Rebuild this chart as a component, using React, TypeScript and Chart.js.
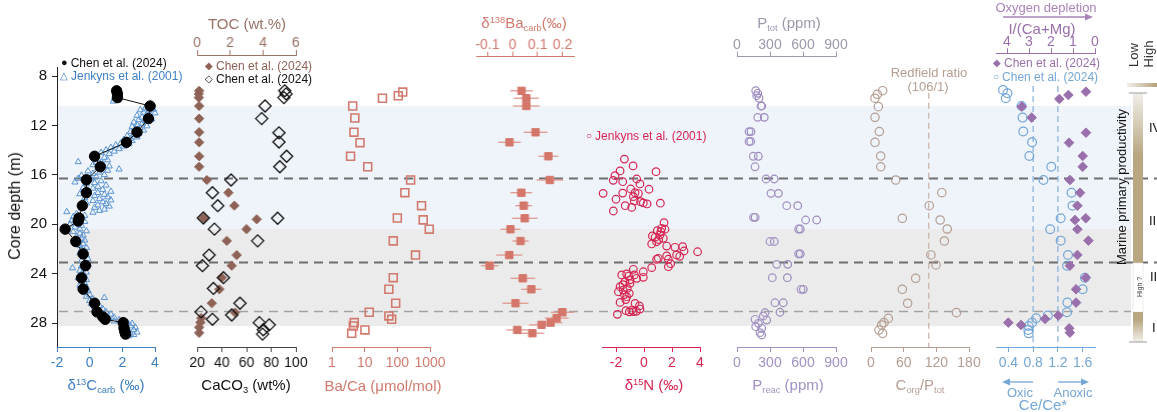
import React, { useEffect, useRef } from "react";
import { Chart, registerables } from "chart.js";

Chart.register(...registerables);

const FONT = "'Liberation Sans', Arial, Helvetica, sans-serif";
Chart.defaults.font.family = FONT;
Chart.defaults.font.size = 14;

const W = 1157;
const H = 412;

// ---------- data ----------
const depthTicks = [8, 12, 16, 20, 24, 28];

// shaded intervals (m) and interval boundaries
const blueInterval: [number, number] = [10.43, 20.4];
const greyInterval: [number, number] = [20.4, 28.24];
const boundaryDepths = [16.23, 23.1, 27.0];

// δ13Ccarb (‰): [depth m, value]
const c13Chen: [number, number][] = [
  [9.2, 1.65], [9.45, 1.7], [9.75, 1.7], [10.43, 3.7], [11.45, 3.6], [12.55, 2.9], [13.37, 2.25],
  [14.5, 0.3], [15.35, 0.65], [16.4, -0.2], [17.45, -0.2], [18.5, -0.45], [19.5, -0.65], [19.75, -0.7],
  [20.4, -1.5], [21.4, -0.85], [22.4, -0.4], [23.35, -0.25], [24.35, -0.5], [25.25, -0.4], [26.4, 0.3],
  [27.1, 0.45], [27.5, 0.8], [27.7, 0.95], [27.97, 2.05], [28.4, 2.1], [28.7, 2.15], [28.9, 2.2],
];
const c13Jenkyns: [number, number][] = [
  [9.85, 1.5], [9.95, 1.75], [10.05, 1.45],
  [10.6, 3.4], [10.7, 3.9], [10.75, 3.1], [10.85, 3.6], [10.95, 3.3], [11.0, 4.0], [11.1, 3.5], [11.2, 2.9],
  [11.25, 3.7], [11.35, 3.2], [11.5, 3.8], [11.55, 3.0], [11.65, 3.4], [11.75, 2.7], [11.85, 3.2], [11.95, 2.9],
  [12.05, 3.5], [12.1, 2.6], [12.2, 3.1], [12.3, 2.8], [12.4, 3.3], [12.5, 2.5], [12.65, 3.0], [12.75, 2.7],
  [12.85, 2.3], [12.95, 2.9], [13.05, 2.5], [13.15, 2.1], [13.25, 2.6], [13.45, 1.9], [13.5, 2.4], [13.6, 1.6],
  [13.7, 2.1], [13.8, 1.3], [13.9, 1.8], [14.0, 1.0], [14.1, 1.5], [14.2, 0.7], [14.3, 1.2], [14.6, 0.9],
  [14.7, 0.5], [14.8, 1.1], [14.95, -0.7], [15.0, 0.4], [15.1, 0.8], [15.2, 0.2], [15.3, 1.2], [15.45, 0.5],
  [15.55, 1.8], [15.65, 1.1], [15.7, -0.1], [15.8, 0.6], [15.9, 0.2], [16.0, 0.9], [16.05, -0.5], [16.15, 0.4],
  [16.3, -0.7], [16.35, 0.1], [16.5, 0.7], [16.6, -0.9], [16.65, 0.3], [16.75, -0.2], [16.85, 1.0], [16.95, 0.5],
  [17.05, -0.4], [17.1, 0.2], [17.2, 0.8], [17.3, -0.1], [17.35, 1.3], [17.45, 0.5], [17.55, -0.6], [17.6, 0.9],
  [17.7, 0.3], [17.8, 1.1], [17.85, -0.3], [17.95, 0.6], [18.05, 1.3], [18.1, 0.2], [18.2, 0.8], [18.3, -0.2],
  [18.35, 1.0], [18.45, 0.5], [18.55, 1.2], [18.65, 0.3], [18.7, -0.5], [18.8, 0.9], [18.9, 0.6], [19.0, -1.4],
  [19.05, 0.2], [19.15, -0.8], [19.3, -0.3], [19.4, -1.0], [19.55, -0.5], [19.7, -1.1], [19.8, -0.3], [19.9, -0.8],
  [20.0, -1.2], [20.1, -0.5], [20.25, -0.9], [20.4, -0.6], [20.55, -0.2], [20.6, -1.0], [20.75, -0.6], [20.9, -0.4],
  [21.0, -0.8], [21.15, -0.5], [21.3, -0.3], [21.45, -0.7], [21.6, -0.4], [21.75, -0.6], [21.9, -0.2], [22.05, -0.5],
  [22.2, -0.3], [22.35, -0.6], [22.5, -0.2], [22.65, -0.4], [22.8, -0.1], [22.95, -0.5], [23.1, -0.3], [23.25, -0.1],
  [23.4, -0.5], [23.55, -1.05], [23.6, -0.3], [23.75, -0.6], [23.9, -0.2], [24.05, -0.5], [24.2, -0.3], [24.35, -0.7],
  [24.5, -0.2], [24.65, -0.5], [24.8, -0.3], [24.95, -0.6], [25.1, -0.2], [25.25, -0.4], [25.4, -0.1], [25.55, -0.3],
  [25.7, 0.0], [25.85, -0.2], [25.95, 0.9], [26.05, 0.2], [26.2, 0.0], [26.3, 0.4], [26.45, 0.1], [26.6, 0.6],
  [26.7, 0.3], [26.85, 0.8], [26.95, 0.5], [27.1, 1.0], [27.2, 0.7], [27.3, 1.3], [27.4, 0.9], [27.55, 1.5],
  [27.65, 1.2], [27.75, 1.8], [27.85, 1.5], [27.95, 2.3], [28.05, 2.6], [28.15, 2.1], [28.25, 2.5], [28.35, 2.8],
  [28.45, 2.3], [28.55, 2.7], [28.65, 2.2], [28.75, 2.9], [28.85, 2.5], [28.95, 2.7], [29.05, 2.4],
];

// TOC (wt.%) and CaCO3 (wt%)
const tocChen: [number, number][] = [
  [9.2, 0.12], [9.45, 0.1], [9.75, 0.1], [10.43, 0.12], [11.45, 0.12], [12.55, 0.12], [13.37, 0.12],
  [14.5, 0.12], [15.35, 0.12], [16.42, 0.59], [17.45, 1.9], [18.5, 2.26], [19.5, 0.38], [19.6, 3.62],
  [20.4, 3.0], [21.35, 1.8], [22.5, 2.4], [23.36, 2.1], [24.33, 1.5], [25.27, 1.35], [26.4, 0.89],
  [27.15, 2.3], [27.6, 0.25], [27.95, 0.2], [28.35, 0.12], [28.8, 0.12],
];
const caco3Chen: [number, number][] = [
  [9.2, 91], [9.45, 92], [9.75, 90.3], [10.43, 75], [11.45, 72.3], [12.6, 86.3], [13.35, 86.3],
  [14.5, 92.5], [15.35, 87], [16.42, 47.5], [17.45, 32.4], [18.5, 36.7], [19.5, 25], [19.52, 85.2],
  [20.4, 34], [21.35, 69], [22.5, 29.7], [23.36, 24.3], [24.33, 41.3], [25.2, 33.2], [26.4, 54.7],
  [27.1, 23.2], [27.35, 48], [27.7, 32.4], [27.97, 70.4], [28.15, 78.4], [28.55, 73.6], [28.9, 73],
];

// Ba/Ca (µmol/mol)
const baCa: [number, number][] = [
  [9.3, 146], [9.6, 107], [9.8, 35], [10.43, 4.3], [11.4, 5.0], [12.55, 4.7], [13.4, 7.2], [14.5, 3.7],
  [15.35, 12.4], [16.42, 255], [17.45, 170], [18.5, 550], [19.5, 100], [19.65, 620], [20.4, 950],
  [21.35, 75], [22.5, 360], [23.36, 2700], [24.33, 75], [25.27, 55], [26.4, 89], [27.13, 13.8],
  [27.43, 55], [27.7, 67], [27.97, 4.8], [28.24, 4.5], [28.56, 10.2], [28.83, 4.0],
];

// δ138Ba carb (‰): [depth, value, 2SD]
const ba138: [number, number, number][] = [
  [9.2, 0.036, 0.045], [9.8, 0.055, 0.05], [10.43, 0.055, 0.053], [12.56, 0.092, 0.047],
  [13.37, -0.012, 0.045], [14.5, 0.143, 0.04], [16.42, 0.149, 0.053], [17.45, 0.035, 0.043],
  [18.5, 0.045, 0.033], [19.52, 0.049, 0.051], [20.41, -0.008, 0.04], [21.36, 0.032, 0.033],
  [22.5, -0.013, 0.052], [23.36, -0.091, 0.035], [24.38, 0.041, 0.049], [25.27, 0.075, 0.04],
  [26.4, 0.012, 0.052], [27.13, 0.199, 0.047], [27.6, 0.176, 0.047], [27.97, 0.152, 0.047],
  [28.15, 0.116, 0.05], [28.56, 0.019, 0.044], [28.83, 0.079, 0.047],
];

// δ15N (‰)
const n15Jenkyns: [number, number][] = [
  [14.73, -1.4], [15.28, -0.78], [15.69, -1.71], [15.75, 0.86], [16.07, -2.07], [16.34, -0.52], [16.45, -2.2],
  [16.56, -1.52], [16.74, -0.29], [17.15, -0.95], [17.17, 0.36], [17.5, -2.92], [17.48, -1.52], [17.45, -0.64],
  [17.52, -0.4], [17.77, -0.76], [17.98, -2.0], [18.12, -0.69], [18.18, -0.25], [18.36, 0.22], [18.3, 1.17],
  [18.5, -1.34], [18.64, -0.88], [18.28, -0.05], [18.93, -2.19],
  [19.87, 1.43], [20.33, 1.26], [20.52, 0.95], [20.41, 1.5], [20.6, 1.2], [20.87, 1.14], [20.95, 0.6],
  [21.06, 0.79], [21.14, 1.38], [21.25, 1.05], [21.6, 0.55], [21.42, 0.9], [21.77, 1.62], [21.87, 2.21],
  [21.82, 2.76], [22.17, 2.86], [22.49, 2.33], [22.6, 2.55], [22.23, 3.83], [22.57, 1.62], [22.76, 1.02],
  [22.84, 1.74], [22.84, 0.9], [23.2, 1.9], [23.44, 1.74], [23.52, 0.55], [23.85, -0.05], [23.65, -0.76],
  [24.03, -1.24], [24.11, -0.69], [24.11, -1.59], [24.2, -1.1], [24.3, -0.05], [24.38, -0.52], [24.5, -1.0],
  [24.65, -1.36], [24.79, -1.0], [24.9, -1.5], [25.06, -1.71], [25.2, -1.2], [25.33, -1.48], [25.47, -1.83],
  [25.6, -1.05], [25.7, -1.4], [25.87, -1.24], [26.1, -1.3], [26.33, -1.71], [26.41, -0.64], [26.62, -0.33],
  [26.87, -0.29], [26.95, -0.88], [27.0, -1.29], [27.05, -0.55], [27.08, -0.76], [27.1, -1.05], [27.3, -1.9],
];

// Phosphorus (ppm)
const pReac: [number, number][] = [
  [9.19, 170], [9.6, 179], [10.43, 218], [11.35, 188], [12.5, 109], [13.3, 109], [14.5, 148], [15.35, 164],
  [16.34, 264], [17.5, 309], [18.5, 452], [19.44, 150], [19.66, 624], [20.39, 560], [21.4, 300], [22.4, 560],
  [23.25, 361], [24.33, 321], [25.27, 582], [26.36, 345], [27.16, 255], [27.43, 239], [27.7, 164],
  [28.03, 194], [28.3, 170], [28.78, 209],
];
const pTot: [number, number][] = [
  [9.4, 188], [9.8, 200], [10.43, 225], [11.35, 248], [12.5, 127], [13.3, 124], [14.5, 194], [16.34, 339],
  [17.5, 376], [18.5, 552], [19.44, 165], [19.66, 724], [20.39, 575], [21.4, 339], [22.4, 575], [23.25, 461],
  [24.33, 458], [25.27, 603], [26.36, 421], [27.13, 391], [27.76, 270], [28.43, 224], [28.97, 224],
];

// Corg/Ptot (molar)
const corgPtot: [number, number][] = [
  [9.19, 21.4], [9.48, 11.6], [9.8, 7.3], [10.48, 13.5], [11.35, 7.3], [12.5, 15.3], [13.37, 7.3],
  [14.48, 17.8], [15.35, 17.8], [16.42, 45.4], [17.45, 130], [18.5, 107], [19.52, 57.5], [19.66, 127],
  [20.39, 140], [21.36, 134.7], [22.49, 110], [23.3, 119.4], [24.38, 82], [25.27, 57.5], [26.4, 67.3],
  [27.16, 157], [27.62, 31.8], [27.97, 23.9], [28.16, 19.6], [28.57, 14.7], [28.84, 21.4],
];
const redfieldRatio = 106;

// I/(Ca+Mg) (µmol/mol) and Ce/Ce*
const iodine: [number, number][] = [
  [9.27, 0.41], [9.54, 1.21], [9.86, 1.62], [10.48, 3.33], [11.37, 2.88], [12.59, 0.41], [13.4, 1.18],
  [14.48, 0.56], [15.35, 0.56], [16.42, 1.14], [17.45, 0.68], [18.5, 0.8], [19.52, 0.42], [19.66, 0.91],
  [20.41, 0.8], [21.33, 0.3], [22.49, 0.8], [23.36, 1.14], [24.33, 0.42], [25.27, 0.86], [26.35, 0.86],
  [27.4, 1.67], [27.67, 2.27], [27.97, 3.94], [28.16, 3.36], [28.43, 1.17], [28.78, 1.14],
];
const ceAnomaly: [number, number][] = [
  [9.13, 0.314], [9.4, 0.385], [9.8, 0.358], [10.43, 0.613], [11.37, 0.63], [12.5, 0.641], [13.37, 0.783],
  [14.48, 0.739], [15.35, 1.093], [16.42, 0.967], [17.45, 1.42], [18.5, 1.436], [19.52, 1.245], [20.41, 1.076],
  [21.33, 1.245], [22.49, 1.364], [23.36, 1.348], [24.33, 1.637], [25.27, 1.6], [26.35, 1.354], [27.13, 1.348],
  [27.4, 1.038], [27.62, 0.848], [27.97, 0.783], [28.24, 0.728], [28.57, 0.722], [28.84, 0.728],
];
const ceThresholds = [0.8, 1.2];

// axis tick values
const c13Ticks = [-2, 0, 2, 4];
const caco3Ticks = [20, 40, 60, 80, 100];
const tocTicks = [0, 2, 4, 6];
const baCaTicks = [1, 10, 100, 1000];
const ba138Ticks = [-0.1, 0, 0.1, 0.2];
const n15Ticks = [-2, 0, 2, 4];
const pTicks = [0, 300, 600, 900];
const corgTicks = [0, 60, 120, 180];
const iodineTicks = [4, 3, 2, 1, 0];
const ceTicks = [0.4, 0.8, 1.2, 1.6];

// ---------- colours ----------
const C = {
  c13: "#3f80c4",
  tri: "#5b95d2",
  toc: "#8e6256",
  tocAxis: "#9a7266",
  ba: "#d27a6e",
  baFill: "#d4766a",
  n15: "#d62552",
  pAxisTop: "#9d98ab",
  p: "#a290c4",
  corg: "#b59e92",
  iod: "#9a70ac",
  ce: "#74a6d6",
};

// ---------- geometry ----------
const Y_REF_PX = 76;
const Y_REF_DEPTH = 8;
const PX_PER_M = 12.35;
const PLOT_BOTTOM = 347;
const AXIS_H = 30;
const PAD_X = 25;
const depthAt = (px: number) => Y_REF_DEPTH + (px - Y_REF_PX) / PX_PER_M;

type AxisSpec = {
  min: number;
  max: number;
  ticks: number[];
  color: string;
  labelColor?: string;
  log?: boolean;
  reverse?: boolean;
};
type PanelSpec = {
  key: string;
  left: number;
  right: number;
  top: number;
  yAxis?: boolean;
  bottom?: AxisSpec;
  topAxis?: AxisSpec;
  datasets: any[];
  plugins?: any[];
};

const pts = (arr: [number, number][] | [number, number, number][]) =>
  arr.map((r) => ({ x: r[1], y: r[0] }));

function xScale(a: AxisSpec, position: "top" | "bottom") {
  return {
    type: a.log ? "logarithmic" : "linear",
    axis: "x",
    position,
    min: a.min,
    max: a.max,
    reverse: !!a.reverse,
    bounds: "data",
    afterFit: (s: any) => {
      s.height = AXIS_H;
    },
    afterBuildTicks: (s: any) => {
      s.ticks = a.ticks.map((v) => ({ value: v }));
    },
    ticks: {
      color: a.labelColor || a.color,
      autoSkip: false,
      maxRotation: 0,
      minRotation: 0,
      padding: position === "top" ? -2 : 3,
      font: { size: 14, family: FONT },
      callback: (v: any) => String(v),
    },
    grid: {
      display: true,
      drawOnChartArea: false,
      drawTicks: true,
      tickLength: 5,
      color: a.color,
      lineWidth: 1,
    },
    border: { display: true, color: a.color, width: 1 },
  };
}

function geometry(p: PanelSpec) {
  const leftSpace = p.yAxis ? p.left : PAD_X;
  return { left: p.left - leftSpace, w: leftSpace + (p.right - p.left) + PAD_X };
}

function buildChart(canvas: HTMLCanvasElement, p: PanelSpec) {
  const y: any = {
    type: "linear",
    position: "left",
    reverse: true,
    min: depthAt(p.top),
    max: depthAt(PLOT_BOTTOM),
    display: !!p.yAxis,
    bounds: "data",
  };
  if (p.yAxis) {
    Object.assign(y, {
      afterFit: (s: any) => {
        s.width = p.left;
      },
      afterBuildTicks: (s: any) => {
        s.ticks = depthTicks.map((v) => ({ value: v }));
      },
      ticks: { color: "#111", padding: 5, font: { size: 15, family: FONT }, callback: (v: any) => String(v) },
      grid: { display: true, drawOnChartArea: false, tickLength: 5, color: "#222" },
      border: { display: true, color: "#222", width: 1 },
    });
  }
  const scales: any = { y };
  if (p.bottom) scales.xb = xScale(p.bottom, "bottom");
  if (p.topAxis) scales.xt = xScale(p.topAxis, "top");
  return new Chart(canvas, {
    type: "scatter",
    data: { datasets: p.datasets },
    options: {
      responsive: false,
      animation: false,
      devicePixelRatio: 1,
      events: [],
      layout: {
        padding: {
          left: p.yAxis ? 0 : PAD_X,
          right: PAD_X,
          top: p.topAxis ? p.top - AXIS_H : p.top,
          bottom: p.bottom ? H - PLOT_BOTTOM - AXIS_H : H - PLOT_BOTTOM,
        },
      },
      plugins: { legend: { display: false }, tooltip: { enabled: false } },
      scales,
    } as any,
    plugins: p.plugins || [],
  });
}

// open / filled marker helpers
const openPts = (color: string, style: string, r: number, w = 1.2) => ({
  pointStyle: style,
  pointRadius: r,
  pointBackgroundColor: "rgba(0,0,0,0)",
  pointBorderColor: color,
  pointBorderWidth: w,
  clip: false,
});
const filledPts = (color: string, style: string, r: number) => ({
  pointStyle: style,
  pointRadius: r,
  pointBackgroundColor: color,
  pointBorderColor: color,
  pointBorderWidth: 1,
  clip: false,
});

function verticalRefLines(id: string, axisId: string, values: number[], fromDepth: number, color: string) {
  return {
    id,
    beforeDatasetsDraw(chart: any) {
      const xs = chart.scales[axisId];
      const ys = chart.scales.y;
      const ctx = chart.ctx;
      ctx.save();
      ctx.strokeStyle = color;
      ctx.lineWidth = 1.3;
      ctx.setLineDash([6, 4]);
      values.forEach((v) => {
        const px = xs.getPixelForValue(v);
        ctx.beginPath();
        ctx.moveTo(px, ys.getPixelForValue(fromDepth));
        ctx.lineTo(px, chart.chartArea.bottom);
        ctx.stroke();
      });
      ctx.restore();
    },
  };
}

const errorBars = {
  id: "ba138Errors",
  beforeDatasetsDraw(chart: any) {
    const xs = chart.scales.xt;
    const ys = chart.scales.y;
    const ctx = chart.ctx;
    ctx.save();
    ctx.strokeStyle = "#e0988d";
    ctx.lineWidth = 1.3;
    ba138.forEach(([d, v, e]) => {
      const py = ys.getPixelForValue(d);
      ctx.beginPath();
      ctx.moveTo(xs.getPixelForValue(v - e), py);
      ctx.lineTo(xs.getPixelForValue(v + e), py);
      ctx.stroke();
    });
    ctx.restore();
  },
};

const panels: PanelSpec[] = [
  {
    key: "c13",
    left: 57,
    right: 155,
    top: 67,
    yAxis: true,
    bottom: { min: -2, max: 4, ticks: c13Ticks, color: C.c13 },
    datasets: [
      {
        data: pts(c13Chen),
        xAxisID: "xb",
        showLine: true,
        borderColor: "#111",
        borderWidth: 1,
        ...filledPts("#000", "circle", 5.2),
      },
      { data: pts(c13Jenkyns), xAxisID: "xb", ...openPts(C.tri, "triangle", 3.6, 1) },
    ],
  },
  {
    key: "carb",
    left: 197,
    right: 295.5,
    top: 55,
    bottom: { min: 20, max: 100, ticks: caco3Ticks, color: "#444", labelColor: "#111" },
    topAxis: { min: 0, max: 6, ticks: tocTicks, color: C.tocAxis },
    datasets: [
      { data: pts(caco3Chen), xAxisID: "xb", ...openPts("#111", "rectRot", 6, 1.3) },
      { data: pts(tocChen), xAxisID: "xt", ...filledPts(C.toc, "rectRot", 4.6) },
    ],
  },
  {
    key: "baca",
    left: 332,
    right: 430,
    top: 67,
    bottom: { min: 1, max: 1000, ticks: baCaTicks, color: C.ba, log: true },
    datasets: [{ data: pts(baCa), xAxisID: "xb", ...openPts(C.ba, "rect", 5.6, 1.6) }],
  },
  {
    key: "ba138",
    left: 476,
    right: 573.5,
    top: 56.7,
    topAxis: { min: -0.145, max: 0.245, ticks: ba138Ticks, color: C.ba },
    datasets: [{ data: pts(ba138), xAxisID: "xt", ...filledPts(C.baFill, "rect", 5.2) }],
    plugins: [errorBars],
  },
  {
    key: "n15",
    left: 602,
    right: 700,
    top: 67,
    bottom: { min: -3, max: 4, ticks: n15Ticks, color: C.n15 },
    datasets: [{ data: pts(n15Jenkyns), xAxisID: "xb", ...openPts(C.n15, "circle", 3.8, 1.2) }],
  },
  {
    key: "p",
    left: 737,
    right: 836,
    top: 56.7,
    bottom: { min: 0, max: 900, ticks: pTicks, color: C.p },
    topAxis: { min: 0, max: 900, ticks: pTicks, color: C.pAxisTop },
    datasets: [
      { data: pts(pReac), xAxisID: "xb", ...openPts(C.p, "circle", 3.8, 1.2) },
      { data: pts(pTot), xAxisID: "xt", ...openPts("#9a88bb", "circle", 3.8, 1.2) },
    ],
  },
  {
    key: "corg",
    left: 871,
    right: 969,
    top: 67,
    bottom: { min: 0, max: 180, ticks: corgTicks, color: C.corg },
    datasets: [{ data: pts(corgPtot), xAxisID: "xb", ...openPts(C.corg, "circle", 4.2, 1.2) }],
    plugins: [verticalRefLines("redfield", "xb", [redfieldRatio], 9.35, "#c9b6ac")],
  },
  {
    key: "redox",
    left: 996,
    right: 1095,
    top: 53.3,
    bottom: { min: 0.2, max: 1.8, ticks: ceTicks, color: C.ce },
    topAxis: { min: 0, max: 4.5, ticks: iodineTicks, color: C.iod, reverse: true },
    datasets: [
      { data: pts(iodine), xAxisID: "xt", ...filledPts(C.iod, "rectRot", 4.8) },
      { data: pts(ceAnomaly), xAxisID: "xb", ...openPts(C.ce, "circle", 4.4, 1.2) },
    ],
    plugins: [verticalRefLines("ceLines", "xb", ceThresholds, 8.8, "#8db6de")],
  },
];

// shading and boundary lines behind every panel
const BAND_X0 = 57;
const BAND_X1 = 1131;
const backdrop = {
  id: "backdrop",
  beforeDraw(chart: any) {
    const y = chart.scales.y;
    const ctx = chart.ctx;
    ctx.save();
    const band = (r: [number, number], color: string) => {
      const y0 = y.getPixelForValue(r[0]);
      const y1 = y.getPixelForValue(r[1]);
      ctx.fillStyle = color;
      ctx.fillRect(BAND_X0, y0, BAND_X1 - BAND_X0, y1 - y0);
    };
    band(blueInterval, "#eff3fa");
    band(greyInterval, "#ebebeb");
    boundaryDepths.forEach((d, i) => {
      const py = Math.round(y.getPixelForValue(d)) + 0.5;
      ctx.beginPath();
      ctx.setLineDash([9, 6]);
      ctx.strokeStyle = i < 2 ? "#6f6f6f" : "#a2a2a2";
      ctx.lineWidth = i < 2 ? 1.8 : 1.4;
      ctx.moveTo(BAND_X0 + 2, py);
      ctx.lineTo(i < 2 ? W : BAND_X1, py);
      ctx.stroke();
    });
    ctx.restore();
  },
};

function Backdrop() {
  const ref = useRef<HTMLCanvasElement>(null);
  useEffect(() => {
    const chart = new Chart(ref.current!, {
      type: "scatter",
      data: { datasets: [] },
      options: {
        responsive: false,
        animation: false,
        devicePixelRatio: 1,
        events: [],
        layout: { padding: { left: BAND_X0, right: 0, top: 67, bottom: H - PLOT_BOTTOM } },
        plugins: { legend: { display: false }, tooltip: { enabled: false } },
        scales: {
          x: { display: false, min: 0, max: 1 },
          y: { display: false, reverse: true, min: depthAt(67), max: depthAt(PLOT_BOTTOM) },
        },
      } as any,
      plugins: [backdrop],
    });
    return () => chart.destroy();
  }, []);
  return <canvas ref={ref} width={W} height={H} style={{ position: "absolute", left: 0, top: 0 }} />;
}

function PanelCanvas({ spec }: { spec: PanelSpec }) {
  const ref = useRef<HTMLCanvasElement>(null);
  useEffect(() => {
    const chart = buildChart(ref.current!, spec);
    return () => chart.destroy();
  }, [spec]);
  const g = geometry(spec);
  return (
    <canvas
      ref={ref}
      width={g.w}
      height={H}
      style={{ position: "absolute", left: g.left, top: 0, width: g.w, height: H }}
    />
  );
}

// ---------- text helpers ----------
function T({
  x,
  y,
  children,
  size = 15,
  color = "#111",
  rotate = 0,
  left = false,
}: {
  x: number;
  y: number;
  children: React.ReactNode;
  size?: number;
  color?: string;
  rotate?: number;
  left?: boolean;
}) {
  return (
    <div
      style={{
        position: "absolute",
        left: x,
        top: y,
        transform: `translate(${left ? "0" : "-50%"},-50%) rotate(${rotate}deg)`,
        fontFamily: FONT,
        fontSize: size,
        color,
        whiteSpace: "nowrap",
        lineHeight: 1,
      }}
    >
      {children}
    </div>
  );
}
const Sup = ({ c }: { c: string }) => (
  <span style={{ fontSize: "0.62em", position: "relative", top: "-0.5em" }}>{c}</span>
);
const Sub = ({ c }: { c: string }) => (
  <span style={{ fontSize: "0.62em", position: "relative", top: "0.3em" }}>{c}</span>
);
const Mark = ({ g, size = 10 }: { g: string; size?: number }) => (
  <span style={{ fontSize: size, marginRight: 3, position: "relative", top: -1 }}>{g}</span>
);

function Decorations() {
  return (
    <svg width={W} height={H} style={{ position: "absolute", left: 0, top: 0 }}>
      <defs>
        <linearGradient id="lowHigh" x1="0" x2="1" y1="0" y2="0">
          <stop offset="0" stopColor="#f3f0ea" />
          <stop offset="1" stopColor="#b3a07a" />
        </linearGradient>
        <linearGradient id="stripTop" x1="0" x2="0" y1="0" y2="1">
          <stop offset="0" stopColor="#f1efea" />
          <stop offset="1" stopColor="#b9a782" />
        </linearGradient>
        <linearGradient id="stripBottom" x1="0" x2="0" y1="0" y2="1">
          <stop offset="0" stopColor="#b9a782" />
          <stop offset="1" stopColor="#f3f1ec" />
        </linearGradient>
      </defs>
      {/* oxygen depletion arrow */}
      <line x1={1003} y1={17} x2={1088} y2={17} stroke="#a983ba" strokeWidth={1.3} />
      <path d="M1093,17 L1085,13.5 L1085,20.5 Z" fill="#a983ba" />
      {/* oxic / anoxic arrows */}
      <line x1={1008} y1={382} x2={1033} y2={382} stroke={C.ce} strokeWidth={1.3} />
      <path d="M1002,382 L1010,378.5 L1010,385.5 Z" fill={C.ce} />
      <line x1={1058} y1={382} x2={1083} y2={382} stroke={C.ce} strokeWidth={1.3} />
      <path d="M1089,382 L1081,378.5 L1081,385.5 Z" fill={C.ce} />
      {/* productivity scale */}
      <rect x={1127} y={83} width={30} height={4} fill="url(#lowHigh)" />
      <rect x={1133} y={93} width={10} height={62} fill="url(#stripTop)" />
      <rect x={1133} y={155} width={10} height={108} fill="#b9a782" />
      <rect x={1133} y={263} width={10} height={49} fill="#ffffff" stroke="#e2ddd3" strokeWidth={0.6} />
      <rect x={1133} y={312} width={10} height={8} fill="#b9a782" />
      <rect x={1133} y={320} width={10} height={22} fill="url(#stripBottom)" />
      <line x1={1129} y1={93} x2={1147} y2={93} stroke="#9a9a9a" strokeWidth={1} />
      <line x1={1129} y1={342} x2={1147} y2={342} stroke="#9a9a9a" strokeWidth={1} />
    </svg>
  );
}

function Texts() {
  return (
    <>
      {/* depth axis */}
      <T x={15} y={206} size={16} rotate={-90}>
        Core depth (m)
      </T>

      {/* δ13C */}
      <T x={61} y={63} size={12} left>
        <Mark g="●" size={11} />
        Chen et al. (2024)
      </T>
      <T x={60} y={76} size={12} color={C.c13} left>
        <Mark g="△" />
        Jenkyns et al. (2001)
      </T>
      <T x={106} y={385} color={C.c13}>
        δ<Sup c="13" />C<Sub c="carb" /> (‰)
      </T>

      {/* TOC / CaCO3 */}
      <T x={247} y={23} color={C.tocAxis}>
        TOC (wt.%)
      </T>
      <T x={205} y={66} size={12} color={C.toc} left>
        <Mark g="◆" />
        Chen et al. (2024)
      </T>
      <T x={205} y={79} size={12} left>
        <Mark g="◇" />
        Chen et al. (2024)
      </T>
      <T x={246} y={385}>
        CaCO<Sub c="3" /> (wt%)
      </T>

      {/* Ba/Ca */}
      <T x={383} y={385} color={C.ba}>
        Ba/Ca (μmol/mol)
      </T>

      {/* δ138Ba */}
      <T x={524} y={23} color={C.ba}>
        δ<Sup c="138" />Ba<Sub c="carb" />(‰)
      </T>

      {/* δ15N */}
      <T x={586} y={136} size={12} color={C.n15} left>
        <Mark g="○" />
        Jenkyns et al. (2001)
      </T>
      <T x={654} y={385} color={C.n15}>
        δ<Sup c="15" />N (‰)
      </T>

      {/* P */}
      <T x={789} y={23} color={C.pAxisTop}>
        P<Sub c="tot" /> (ppm)
      </T>
      <T x={788} y={385} color={C.p}>
        P<Sub c="reac" /> (ppm)
      </T>

      {/* Corg/Ptot */}
      <T x={929} y={72} size={13} color={C.corg}>
        Redfield ratio
      </T>
      <T x={928} y={86} size={13} color={C.corg}>
        (106/1)
      </T>
      <T x={920} y={385} color={C.corg}>
        C<Sub c="org" />/P<Sub c="tot" />
      </T>

      {/* redox */}
      <T x={1046} y={7} size={13} color="#a983ba">
        Oxygen depletion
      </T>
      <T x={1042} y={28} size={15} color={C.iod}>
        I/(Ca+Mg)
      </T>
      <T x={993} y={63} size={12} color={C.iod} left>
        <Mark g="◆" />
        Chen et al. (2024)
      </T>
      <T x={993} y={77} size={12} color={C.ce} left>
        <Mark g="○" />
        Chen et al. (2024)
      </T>
      <T x={1020} y={392} size={13} color={C.ce}>
        Oxic
      </T>
      <T x={1073} y={392} size={13} color={C.ce}>
        Anoxic
      </T>
      <T x={1043} y={404} size={15} color={C.ce}>
        Ce/Ce*
      </T>

      {/* productivity */}
      <T x={1133} y={55} size={13} color="#333" rotate={-90}>
        Low
      </T>
      <T x={1148} y={54} size={13} color="#333" rotate={-90}>
        High
      </T>
      <T x={1121} y={187} size={13} rotate={-90}>
        Marine primary productivity
      </T>
      <T x={1139} y={287} size={7} color="#444" rotate={-90}>
        High ?
      </T>
      <T x={1149} y={127} size={13} left>
        IV
      </T>
      <T x={1149} y={220} size={13} left>
        III
      </T>
      <T x={1150} y={276} size={13} left>
        II
      </T>
      <T x={1152} y={327} size={13} left>
        I
      </T>
    </>
  );
}

export default function App() {
  return (
    <div
      style={{
        position: "absolute",
        left: 0,
        top: 0,
        width: W,
        height: H,
        overflow: "hidden",
        background: "#fff",
      }}
    >
      <Backdrop />
      <Decorations />
      {panels.map((p) => (
        <PanelCanvas key={p.key} spec={p} />
      ))}
      <Texts />
    </div>
  );
}
